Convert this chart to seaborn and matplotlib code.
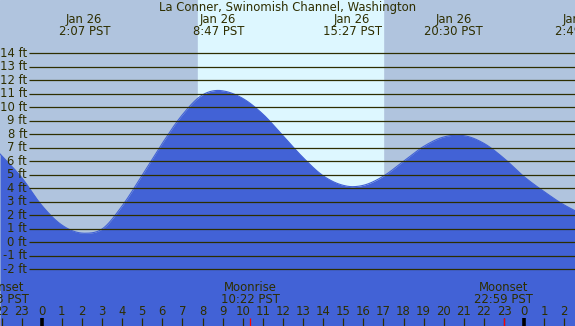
import numpy as np
import pandas as pd
import matplotlib
matplotlib.use("Agg")
import matplotlib.pyplot as plt
import seaborn as sns

# ---- data ----
hours = [-2.07, -1, 0, 1, 2, 2.12, 3, 4, 5, 6, 7, 8, 8.78, 9, 10, 11, 12, 13, 14,
         15, 15.45, 16, 17, 18, 19, 20, 20.5, 21, 22, 23, 24, 25, 26, 26.53]
heights = [6.54, 4.8, 2.74, 1.28, 0.68, 0.67, 0.98, 2.69, 4.97, 7.33, 9.45, 10.92, 11.25,
           11.22, 10.66, 9.5, 7.9, 6.28, 4.93, 4.22, 4.12, 4.22, 4.9, 6.0, 7.1,
           7.8, 7.92, 7.9, 7.33, 6.22, 4.86, 3.75, 2.76, 2.34]

ft_levels = list(range(-2, 15))
ft_labels = [f"{v} ft" for v in ft_levels]

extreme_hours = [2.117, 8.783, 15.45, 20.5, 26.817]
extreme_labels = ["Jan 26\n2:07 PST", "Jan 26\n8:47 PST", "Jan 26\n15:27 PST",
                  "Jan 26\n20:30 PST", "Jan 26\n2:49 PST"]

hour_ticks = list(range(-2, 27))
hour_tick_labels = [str(h % 24) for h in hour_ticks]

sunrise, sunset = 7.78, 17.0
moon_events = [(-2.12, "Moonset\n21:53 PST"), (10.367, "Moonrise\n10:22 PST"),
               (22.983, "Moonset\n22:59 PST")]

title = "La Conner, Swinomish Channel, Washington"


def smooth_render(x, y, n=1400):
    """Smooth cubic Hermite rendering through the read points (drawing only)."""
    x = np.asarray(x, float)
    y = np.asarray(y, float)
    h = np.diff(x)
    dl = np.diff(y) / h
    d = np.zeros_like(y)
    for k in range(1, len(x) - 1):
        if dl[k - 1] * dl[k] <= 0:
            d[k] = 0.0
        else:
            d[k] = (dl[k - 1] * h[k] + dl[k] * h[k - 1]) / (h[k - 1] + h[k])
    d[0] = dl[0]
    d[-1] = dl[-1]
    xs = np.linspace(x[0], x[-1], n)
    idx = np.clip(np.searchsorted(x, xs) - 1, 0, len(x) - 2)
    t = (xs - x[idx]) / h[idx]
    h00 = 2 * t**3 - 3 * t**2 + 1
    h10 = t**3 - 2 * t**2 + t
    h01 = -2 * t**3 + 3 * t**2
    h11 = t**3 - t**2
    ys = (h00 * y[idx] + h10 * h[idx] * d[idx] + h01 * y[idx + 1]
          + h11 * h[idx] * d[idx + 1])
    return xs, ys


# ---- figure ----
W, H = 575, 326
fig = plt.figure(figsize=(W / 100, H / 100), dpi=100)
ax = fig.add_axes([0, 0, 1, 1])

px_per_hr = 20.1
x0_hr = -41.7 / px_per_hr
x1_hr = (W - 41.7) / px_per_hr
px_per_ft = 13.5
zero_y = 242.3
y_top = zero_y / px_per_ft
y_bot = -(H - zero_y) / px_per_ft
ax.set_xlim(x0_hr, x1_hr)
ax.set_ylim(y_bot, y_top)
ax.axis("off")

night = "#b0c4de"
day = "#ddf7ff"
water = "#4262d6"
ink = "#2e2e00"
FS = 8.4

ax.axvspan(x0_hr, x1_hr, color=night, zorder=0)
ax.axvspan(sunrise, sunset, color=day, zorder=0.5)

xs, ys = smooth_render(hours, heights)
df = pd.DataFrame({"hour": xs, "height": ys})
ax.fill_between(df["hour"], df["height"], y_bot, color=water, zorder=1, lw=0)
sns.lineplot(data=df, x="hour", y="height", ax=ax, color=water, lw=0.8, zorder=1.1)


def px2x(px):
    return x0_hr + px / px_per_hr


for v, lab in zip(ft_levels, ft_labels):
    ax.plot([px2x(29), x1_hr], [v, v], color=ink, lw=0.9, zorder=2,
            solid_capstyle="butt", snap=True)
    ax.text(px2x(27), v, lab, ha="right", va="center", fontsize=FS, color=ink, zorder=3)


def ypx(py):
    return 1 - py / H


fig.text(0.5, ypx(7.5), title, ha="center", va="center", fontsize=FS, color=ink)
for h, lab in zip(extreme_hours, extreme_labels):
    xf = (h - x0_hr) / (x1_hr - x0_hr)
    l1, l2 = lab.split("\n")
    fig.text(xf, ypx(19.5), l1, ha="center", va="center", fontsize=FS, color=ink)
    fig.text(xf, ypx(31.5), l2, ha="center", va="center", fontsize=FS, color=ink)

tick_top = -(318 - zero_y) / px_per_ft
for h, lab in zip(hour_ticks, hour_tick_labels):
    xf = (h - x0_hr) / (x1_hr - x0_hr)
    fig.text(xf, ypx(311.5), lab, ha="center", va="center", fontsize=FS, color=ink)
    thick = (h % 24 == 0)
    ax.plot([h, h], [tick_top, y_bot], color="black" if thick else ink,
            lw=2.6 if thick else 0.9, zorder=3, solid_capstyle="butt")

for h, lab in moon_events:
    xf = (h - x0_hr) / (x1_hr - x0_hr)
    l1, l2 = lab.split("\n")
    fig.text(xf, ypx(287.5), l1, ha="center", va="center", fontsize=FS, color=ink)
    fig.text(xf, ypx(299.5), l2, ha="center", va="center", fontsize=FS, color=ink)
    ax.plot([h, h], [tick_top, y_bot], color="red", lw=0.9, zorder=3.5,
            solid_capstyle="butt")

fig.savefig("out.png", dpi=100)
